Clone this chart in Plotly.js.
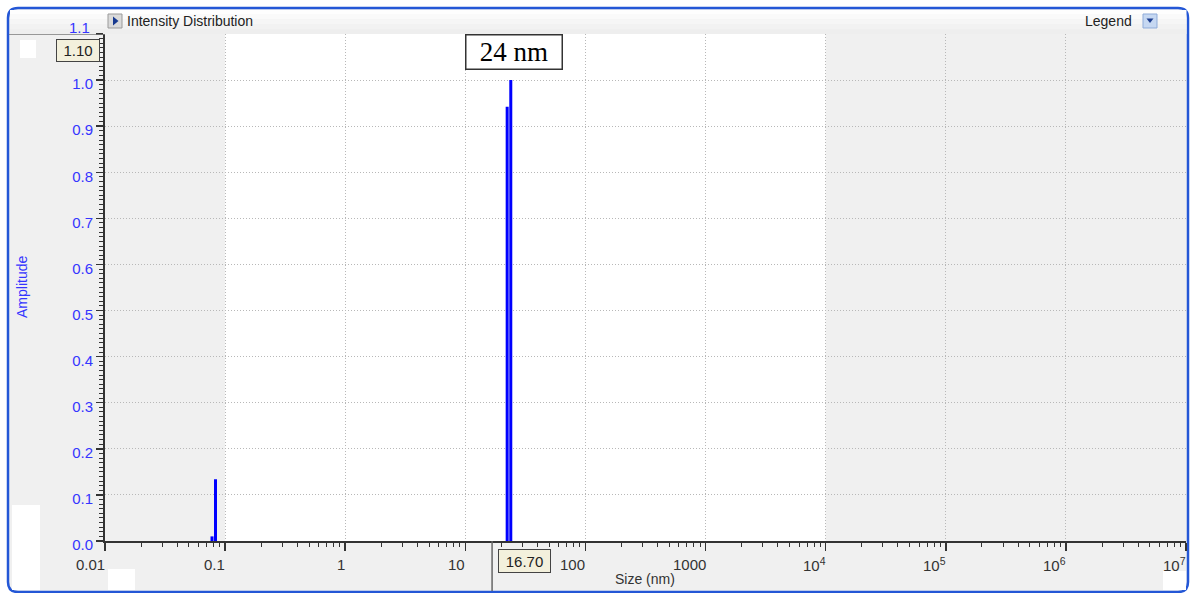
<!DOCTYPE html>
<html>
<head>
<meta charset="utf-8">
<script src="https://cdn.plot.ly/plotly-3.0.1.min.js"></script>
<style>html,body{margin:0;padding:0;background:#fff;}#chart{width:1192px;height:593px;}</style>
</head>
<body>
<div id="chart"></div>
<script>
// ---- data ----
const sizes = [0.0778, 0.0832, 22.3, 23.9];          // nm
const amplitudes = [0.01, 0.134, 0.942, 1.0];
const xTickVals = [0.01, 0.1, 1, 10, 100, 1000, 1e4, 1e5, 1e6, 1e7];
const xTickText = ['0.01', '0.1', '1', '10', '100', '1000', '10<sup>4</sup>', '10<sup>5</sup>', '10<sup>6</sup>', '10<sup>7</sup>'];
const yTickVals = [0, 0.1, 0.2, 0.3, 0.4, 0.5, 0.6, 0.7, 0.8, 0.9, 1.0, 1.1];
const yTickText = ['0.0', '0.1', '0.2', '0.3', '0.4', '0.5', '0.6', '0.7', '0.8', '0.9', '1.0', '1.1'];
const peakLabel = '24 nm';
const peakSize = 24;
const cursorX = 16.7;
const cursorY = 1.1;
const headerTitle = 'Intensity Distribution';
const legendText = 'Legend';
const xTitle = 'Size (nm)';
const yTitle = 'Amplitude';

// ---- geometry helpers (pixel -> paper) ----
const W = 1192, H = 593;
const L = 105, R = 1186, T = 34, B = 541;
const fx = p => (p - L) / (R - L);
const fy = p => (B - p) / (B - T);
const P = (x, y) => fx(x) + ',' + fy(y);
const FONT = 'Arial, Liberation Sans, sans-serif';

// build the stick trace from data
const lx = [], ly = [];
sizes.forEach((s, i) => { lx.push(s, s, null); ly.push(0, amplitudes[i], null); });

const traces = [{
  type: 'scatter', mode: 'lines', x: lx, y: ly,
  line: {color: '#0000ff', width: 3}, hoverinfo: 'skip', showlegend: false, connectgaps: false
}];

// minor ticks on log axis
const minorX = [];
for (let d = -2; d < 7; d++) for (let k = 2; k <= 9; k++) minorX.push(k * Math.pow(10, d));

// frame path with rounded corners
function roundRect(x0, y0, x1, y1, r) {
  return 'M' + P(x0 + r, y0) + ' L' + P(x1 - r, y0) + ' Q' + P(x1, y0) + ' ' + P(x1, y0 + r) +
    ' L' + P(x1, y1 - r) + ' Q' + P(x1, y1) + ' ' + P(x1 - r, y1) +
    ' L' + P(x0 + r, y1) + ' Q' + P(x0, y1) + ' ' + P(x0, y1 - r) +
    ' L' + P(x0, y0 + r) + ' Q' + P(x0, y0) + ' ' + P(x0 + r, y0) + ' Z';
}

const shapes = [];
// outer frame
shapes.push({type: 'path', xref: 'paper', yref: 'paper', path: roundRect(8, 8, 1188, 592, 10),
  fillcolor: '#f0f0f0', line: {color: '#2457d6', width: 2.5}, layer: 'below'});
// header gradient bands
const bandCols = ['#fefefe', '#fafafa', '#f6f6f6', '#f2f2f2', '#eeeeee'];
bandCols.forEach((c, i) => {
  const y0 = 10 + i * 4.8, y1 = y0 + 4.8;
  shapes.push({type: 'rect', xref: 'paper', yref: 'paper', x0: fx(10), x1: fx(1186.5), y0: fy(y0), y1: fy(y1),
    fillcolor: c, line: {width: 0}, layer: 'below'});
});
// scan artefacts (white patches)
[[12, 505, 40, 590], [20, 40, 36, 58], [108, 569, 135, 590], [1163, 571, 1186, 590]].forEach(b => {
  shapes.push({type: 'rect', xref: 'paper', yref: 'paper', x0: fx(b[0]), x1: fx(b[2]), y0: fy(b[1]), y1: fy(b[3]),
    fillcolor: '#ffffff', line: {width: 0}, layer: 'below'});
});
// white measuring region
shapes.push({type: 'rect', xref: 'x', yref: 'paper', x0: 0.1, x1: 1e4, y0: 0, y1: 1,
  fillcolor: '#ffffff', line: {width: 0}, layer: 'below'});
// header icon (play button)
shapes.push({type: 'rect', xref: 'paper', yref: 'paper', x0: fx(108), x1: fx(122), y0: fy(14), y1: fy(28),
  fillcolor: '#dadada', line: {color: '#9a9a9a', width: 1}});
shapes.push({type: 'path', xref: 'paper', yref: 'paper', path: 'M' + P(113, 16.5) + ' L' + P(113, 25.5) + ' L' + P(118.5, 21) + ' Z',
  fillcolor: '#17398f', line: {width: 0}});
// legend dropdown icon
shapes.push({type: 'rect', xref: 'paper', yref: 'paper', x0: fx(1143), x1: fx(1157), y0: fy(14), y1: fy(28),
  fillcolor: '#c6d8f2', line: {color: '#8eabd9', width: 1}});
shapes.push({type: 'path', xref: 'paper', yref: 'paper', path: 'M' + P(1146.5, 18.5) + ' L' + P(1153.5, 18.5) + ' L' + P(1150, 23) + ' Z',
  fillcolor: '#1f3f8f', line: {width: 0}});
// cursor lines
shapes.push({type: 'line', xref: 'paper', yref: 'y', x0: fx(9), x1: 0, y0: cursorY, y1: cursorY,
  line: {color: '#7a7a7a', width: 1.5}});
shapes.push({type: 'line', xref: 'x', yref: 'paper', x0: cursorX, x1: cursorX, y0: 0, y1: fy(591),
  line: {color: '#666666', width: 1.5}});

const annotations = [];
// x tick labels (right aligned to ticks)
xTickVals.forEach((v, i) => {
  annotations.push({xref: 'x', yref: 'paper', x: Math.log10(v), y: fy(564), xanchor: 'right', yanchor: 'middle',
    xshift: 2, text: xTickText[i], showarrow: false, font: {family: FONT, size: 15, color: '#333333'}});
});
// top y label sits above the plot, drawn separately
const lastY = yTickVals.length - 1;
annotations.push({xref: 'paper', yref: 'y', x: fx(92), y: yTickVals[lastY], yshift: 7, xanchor: 'right', yanchor: 'middle',
  text: yTickText[lastY], showarrow: false, font: {family: FONT, size: 15, color: '#3535ff'}});
annotations.push({xref: 'paper', yref: 'paper', x: fx(645), y: fy(579), xanchor: 'center', yanchor: 'middle',
  text: xTitle, showarrow: false, font: {family: FONT, size: 14, color: '#333333'}});
annotations.push({xref: 'paper', yref: 'paper', x: fx(22), y: fy(287), xanchor: 'center', yanchor: 'middle', textangle: -90,
  text: yTitle, showarrow: false, font: {family: FONT, size: 14, color: '#3535ff'}});
annotations.push({xref: 'paper', yref: 'paper', x: fx(125), y: fy(21.5), xanchor: 'left', yanchor: 'middle',
  text: headerTitle, showarrow: false, font: {family: FONT, size: 14, color: '#222222'}});
annotations.push({xref: 'paper', yref: 'paper', x: fx(1134), y: fy(21.5), xanchor: 'right', yanchor: 'middle',
  text: legendText, showarrow: false, font: {family: FONT, size: 14, color: '#222222'}});
// peak label box
annotations.push({xref: 'x', yref: 'paper', x: Math.log10(peakSize), y: fy(52.5), xanchor: 'center', yanchor: 'middle', xshift: 3,
  text: peakLabel, showarrow: false, font: {family: 'Liberation Serif, Times New Roman, serif', size: 27, color: '#000000'},
  bgcolor: '#ffffff', bordercolor: '#333333', borderwidth: 1.5, borderpad: 0, width: 95, height: 33});
// cursor value boxes
annotations.push({xref: 'paper', yref: 'paper', x: fx(56), y: fy(38.5), xanchor: 'left', yanchor: 'top',
  text: cursorY.toFixed(2), showarrow: false, font: {family: FONT, size: 15, color: '#222222'},
  bgcolor: '#f3f0dc', bordercolor: '#444444', borderwidth: 1, borderpad: 0, width: 42, height: 21});
annotations.push({xref: 'paper', yref: 'paper', x: fx(497.5), y: fy(548.5), xanchor: 'left', yanchor: 'top',
  text: cursorX.toFixed(2), showarrow: false, font: {family: FONT, size: 15, color: '#222222'},
  bgcolor: '#f3f0dc', bordercolor: '#444444', borderwidth: 1, borderpad: 0, width: 51, height: 22});

const layout = {
  width: W, height: H,
  margin: {l: L, r: W - R, t: T, b: H - B, pad: 0},
  paper_bgcolor: '#ffffff', plot_bgcolor: 'rgba(0,0,0,0)',
  showlegend: false,
  xaxis: {
    type: 'log', range: [-2, 7], tickmode: 'array', tickvals: xTickVals, showticklabels: false,
    ticks: 'outside', ticklen: 8, tickwidth: 1.5, tickcolor: '#333333',
    showline: true, linecolor: '#333333', linewidth: 2, mirror: false,
    showgrid: true, gridcolor: '#b8b8b8', griddash: '1px,2px', gridwidth: 1, zeroline: false,
    minor: {tickmode: 'array', tickvals: minorX, ticks: 'outside', ticklen: 4, tickwidth: 1, tickcolor: '#333333', showgrid: false},
    fixedrange: true
  },
  yaxis: {
    range: [0, 1.1], tickmode: 'array', tickvals: yTickVals,
    ticktext: yTickText.map((t, i) => i === lastY ? '' : t),
    ticks: 'outside', ticklen: 7, tickwidth: 1.5, tickcolor: '#333333', ticklabelshift: 4,
    tickfont: {family: FONT, size: 15, color: '#3535ff'},
    showline: true, linecolor: '#333333', linewidth: 2,
    showgrid: true, gridcolor: '#b8b8b8', griddash: '1px,2px', gridwidth: 1, zeroline: false,
    minor: {dtick: 0.01, ticks: 'outside', ticklen: 4, tickwidth: 1, tickcolor: '#333333', showgrid: false},
    fixedrange: true
  },
  shapes: shapes,
  annotations: annotations
};

Plotly.newPlot('chart', traces, layout, {displayModeBar: false, staticPlot: true});
</script>
</body>
</html>
